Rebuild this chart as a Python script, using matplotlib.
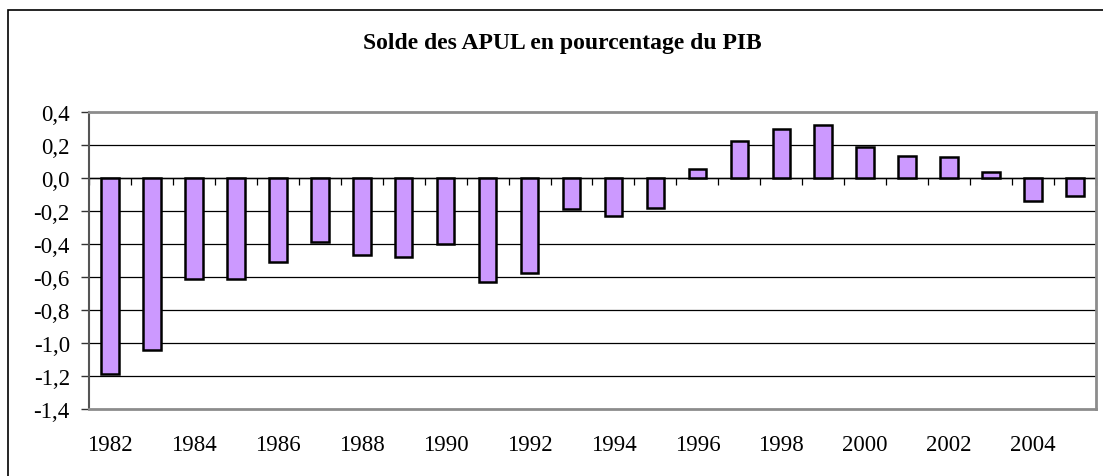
import matplotlib
matplotlib.use("Agg")
import matplotlib.pyplot as plt
from matplotlib.patches import Rectangle
from matplotlib.ticker import FuncFormatter
import numpy as np

years = list(range(1982, 2006))
values = [-1.19, -1.04, -0.61, -0.615, -0.51, -0.39, -0.465, -0.48, -0.40, -0.63,
          -0.575, -0.19, -0.23, -0.18, 0.055, 0.225, 0.295, 0.32, 0.19, 0.135,
          0.13, 0.035, -0.14, -0.11]
yticks = [-1.4, -1.2, -1.0, -0.8, -0.6, -0.4, -0.2, 0.0, 0.2, 0.4]
title = "Solde des APUL en pourcentage du PIB"

W, H = 1103, 477
fig = plt.figure(figsize=(W / 100, H / 100), dpi=100)
plt.rcParams['font.family'] = ['Liberation Serif', 'DejaVu Serif']

# outer chart border (cut off at right and bottom)
fig.patches.append(Rectangle((8 / W, -0.1), 1.2, 1.1 - 11 / H,
                             transform=fig.transFigure, fill=False,
                             edgecolor='black', linewidth=1.2))

ax = fig.add_axes([89 / W, (H - 410) / H, (1096 - 89) / W, (410 - 113) / H])
x = np.arange(len(years))
ax.set_xlim(-0.5, len(years) - 0.5)
ax.set_ylim(-1.4, 0.4)

for yv in yticks[1:-1]:
    ax.axhline(yv, color='black', linewidth=0.9, zorder=1)

ax.bar(x, values, width=0.42, color='#CC99FF', edgecolor='black', linewidth=1.8, zorder=3)

# category axis at zero with ticks between categories
ax.axhline(0, color='black', linewidth=1.0, zorder=2)
bounds = np.arange(len(years) + 1) - 0.5
ax.plot(bounds, np.zeros_like(bounds), linestyle='none', marker=3,
        markersize=5, color='black', markeredgewidth=0.9, zorder=2, clip_on=False)

for s in ['top', 'right', 'bottom']:
    ax.spines[s].set_color('#8c8c8c')
    ax.spines[s].set_linewidth(2.0)
ax.spines['left'].set_color('#555555')
ax.spines['left'].set_linewidth(1.5)

ax.set_yticks(yticks)
ax.yaxis.set_major_formatter(FuncFormatter(lambda v, p: f"{v:.1f}".replace('.', ',').replace('-0,0', '0,0')))
ax.tick_params(axis='y', length=5.8, width=1.0, color='#333333', labelsize=16.5, pad=8)

even = x[::2]
ax.set_xticks(even)
ax.set_xticklabels([str(years[i]) for i in even])
ax.tick_params(axis='x', length=0, labelsize=16.5, pad=18)

fig.text(0.51, 1 - 43 / H, title, ha='center', va='center', fontsize=17,
         fontweight='bold')

fig.savefig('out.png', dpi=100)
